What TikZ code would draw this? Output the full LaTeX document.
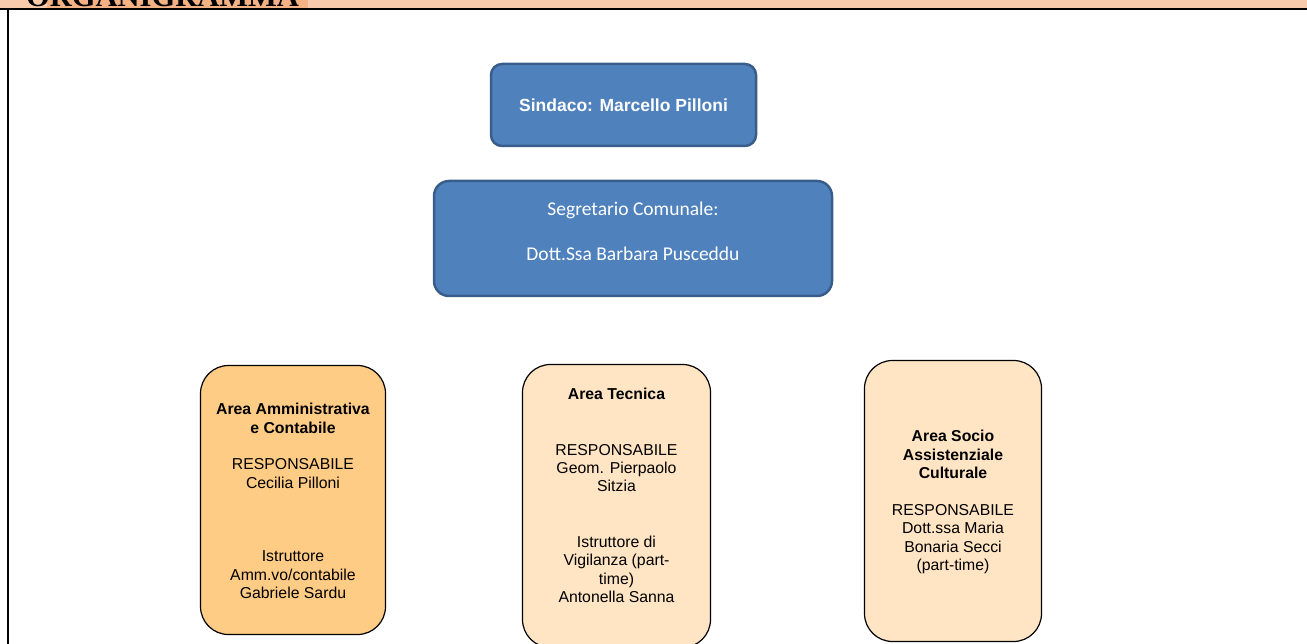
\documentclass[tikz,border=0pt]{standalone}
\usepackage{fontspec}
\setmainfont{Liberation Sans}
\newfontfamily\calibrifont{Carlito}
\newfontfamily\headfont{Liberation Serif}

\definecolor{headpeach}{HTML}{F8CBAD}
\definecolor{headmark}{HTML}{F4B183}
\definecolor{bluefill}{HTML}{4F81BD}
\definecolor{blueedge}{HTML}{385D8A}
\definecolor{areaorange}{HTML}{FFCC85}
\definecolor{arealight}{HTML}{FFE5C4}

\begin{document}
\begin{tikzpicture}[x=1pt,y=-1pt,
	bluebox/.style={draw=blueedge,line width=2.5pt,fill=bluefill,text=white,inner sep=0},
	areabox/.style={draw=black,line width=1.2pt,rounded corners=28pt,inner sep=0},
	areatext/.style={align=center,inner sep=0,font=\fontsize{15.8}{18.4}\selectfont}]
	\useasboundingbox (0,0) rectangle (1307,644);
	% header band
	\fill[headpeach] (0,0) rectangle (1307,8);
	\fill[headmark] (47,0) rectangle (308,8);
	\node[anchor=base west,inner sep=0,font=\headfont\bfseries\fontsize{30.5}{32}\selectfont] (title) at (26,7) {ORGANIGRAMMA};
	\draw[line width=1.6pt] (0,9) -- (1307,9);
	\draw[line width=1.4pt] (8,9) -- (8,644);
	% top boxes
	\node[bluebox,rounded corners=11pt,minimum width=265pt,minimum height=82pt,font=\bfseries\fontsize{17.5}{20}\selectfont] (sindaco) at (623.5,105) {Sindaco: Marcello Pilloni};
	\node[bluebox,rounded corners=15pt,minimum width=398pt,minimum height=115pt] (segretario) at (633,238.5) {};
	\node[align=center,text=white,inner sep=0,font=\calibrifont\fontsize{19.5}{22.5}\selectfont] (segrtxt) at (633,231) {Segretario Comunale:\\[22.5pt]Dott.Ssa Barbara Pusceddu};
	% areas
	\node[areabox,fill=areaorange,minimum width=185pt,minimum height=269pt] (amm) at (293,500) {};
	\node[areabox,fill=arealight,minimum width=188pt,minimum height=283pt] (tec) at (616.5,506) {};
	\node[areabox,fill=arealight,minimum width=177pt,minimum height=281pt] (soc) at (953,501) {};
	\node[areatext] (ammtxt) at (amm.center) [yshift=-1pt] {\textbf{Area Amministrativa}\\\textbf{e Contabile}\\[18.4pt]RESPONSABILE\\Cecilia Pilloni\\[55pt]Istruttore\\Amm.vo/contabile\\Gabriele Sardu};
	\node[areatext] (tectxt) at (616.5,495.5) {\textbf{Area Tecnica}\\[37pt]RESPONSABILE\\Geom. Pierpaolo\\Sitzia\\[37pt]Istruttore di\\Vigilanza (part-\\time)\\Antonella Sanna};
	\node[areatext] (soctxt) at (953,502) {\textbf{Area Socio}\\\textbf{Assistenziale}\\\textbf{Culturale}\\[18.4pt]RESPONSABILE\\Dott.ssa Maria\\Bonaria Secci\\(part-time)};
\end{tikzpicture}
\end{document}
